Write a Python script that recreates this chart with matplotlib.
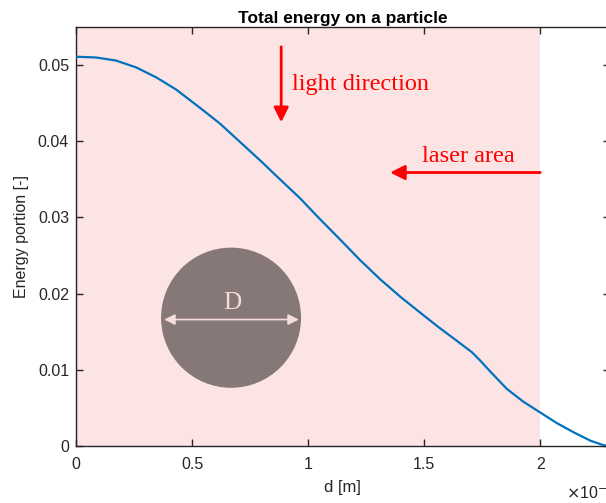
import numpy as np
import matplotlib.pyplot as plt
from matplotlib.patches import Ellipse

# energy share reaching the particle vs offset d (x in units of 1e-4 m)
d = [0.0, 0.086, 0.172, 0.259, 0.345, 0.431, 0.534, 0.621, 0.707, 0.793, 0.879,
     0.966, 1.044, 1.138, 1.224, 1.310, 1.397, 1.483, 1.562, 1.641, 1.706, 1.745,
     1.784, 1.856, 1.928, 2.0, 2.072, 2.144, 2.216, 2.273, 2.3]
energy = [0.0511, 0.0510, 0.0506, 0.0497, 0.0484, 0.0468, 0.0444, 0.0423, 0.0399,
          0.0375, 0.0350, 0.0325, 0.0300, 0.0271, 0.0244, 0.0219, 0.0196, 0.0175,
          0.0156, 0.0138, 0.0123, 0.0111, 0.0098, 0.0075, 0.0058, 0.0044, 0.0030,
          0.0018, 0.0007, 0.0001, 0.0]

xticks = [0, 0.5, 1, 1.5, 2]
xticklabels = ['0', '0.5', '1', '1.5', '2']
yticks = [0, 0.01, 0.02, 0.03, 0.04, 0.05]
yticklabels = ['0', '0.01', '0.02', '0.03', '0.04', '0.05']
laser_end = 2.0

plt.rcParams['font.family'] = ['Liberation Sans', 'DejaVu Sans']
dark = '#262626'
fig = plt.figure(figsize=(6.06, 5.03), dpi=100)
ax = fig.add_axes([0.1254, 0.1133, 0.881, 0.833])

# laser area shading
ax.axvspan(0, laser_end, color='#fde4e4', lw=0, zorder=0)

ax.plot(d, energy, color='#0072bd', lw=1.6, zorder=3, solid_joinstyle='round')

# particle sketch
ax.add_patch(Ellipse((0.668, 0.01684), 0.603, 0.0184, color='#877878', lw=0, zorder=2))
ax.annotate('', xy=(0.38, 0.0166), xytext=(0.96, 0.0166),
            arrowprops=dict(arrowstyle='<|-|>', color='#f6dcdc', lw=1.2,
                            mutation_scale=16, shrinkA=0, shrinkB=0), zorder=4)
ax.text(0.675, 0.0188, 'D', color='#f6dcdc', fontsize=18, family='Liberation Serif',
        ha='center', va='center', zorder=4)

# annotations
ax.annotate('', xy=(0.884, 0.0425), xytext=(0.884, 0.0524),
            arrowprops=dict(arrowstyle='-|>', color='red', lw=2, mutation_scale=22,
                            shrinkA=0, shrinkB=0))
ax.text(0.93, 0.0475, 'light direction', color='red', fontsize=17.5,
        family='Liberation Serif', ha='left', va='center')
ax.annotate('', xy=(1.353, 0.0359), xytext=(2.0, 0.0359),
            arrowprops=dict(arrowstyle='-|>', color='red', lw=2, mutation_scale=22,
                            shrinkA=0, shrinkB=0))
ax.text(1.49, 0.0380, 'laser area', color='red', fontsize=17.5,
        family='Liberation Serif', ha='left', va='center')

ax.set_xlim(0, 2.3)
ax.set_ylim(0, 0.055)
ax.set_xticks(xticks)
ax.set_xticklabels(xticklabels)
ax.set_yticks(yticks)
ax.set_yticklabels(yticklabels)
ax.tick_params(direction='in', top=True, right=True, length=5, width=1,
               colors=dark, labelsize=11.5)
ax.tick_params(axis='x', pad=8)
ax.tick_params(axis='y', pad=5)
for s in ax.spines.values():
    s.set_color(dark)
    s.set_linewidth(1)

ax.set_title('Total energy on a particle', fontsize=12.5, fontweight='bold', color='black', pad=3)
ax.set_xlabel('d [m]', fontsize=12, color=dark, labelpad=6)
ax.set_ylabel('Energy portion [-]', fontsize=11.5, color=dark, labelpad=6)
fig.text(0.934, 0.008, r'$\times$10$^{-4}$', fontsize=11.5, color=dark)

fig.savefig('out.png', dpi=100)
